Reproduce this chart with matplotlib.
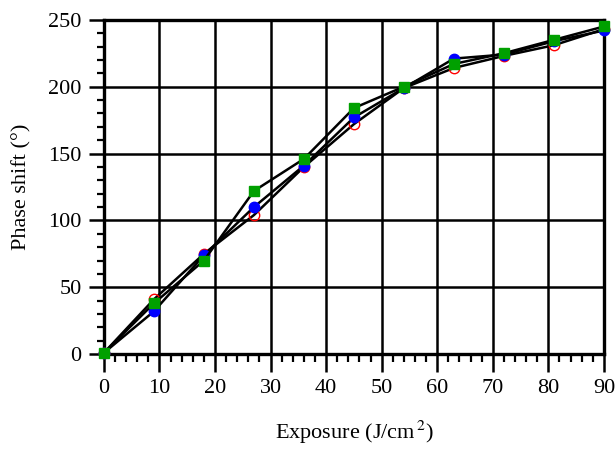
import numpy as np
import matplotlib
matplotlib.use('Agg')
import matplotlib.pyplot as plt
from matplotlib.ticker import MultipleLocator

plt.rcParams['font.family'] = ['Liberation Serif', 'DejaVu Serif']
plt.rcParams['mathtext.fontset'] = 'stix'

exposure = [0, 9, 18, 27, 36, 45, 54, 63, 72, 81, 90]
phase_red = [1, 41, 75, 104, 140, 172, 199, 214, 223, 231, 243]
phase_blue = [1, 32, 74, 110, 141, 177, 199, 221, 224, 234, 242]
phase_green = [1, 38, 70, 122, 146, 184, 200, 217, 225, 235, 245]

fig = plt.figure(figsize=(6.15, 4.5), dpi=100)
ax = fig.add_axes([0.169, 0.213, 0.813, 0.743])

ax.plot(exposure, phase_red, color='black', lw=1.8, marker='o', ms=7.5,
        mfc='none', mec='red', mew=1.0, clip_on=False, zorder=3)
ax.plot(exposure, phase_blue, color='black', lw=1.8, marker='o', ms=7.5,
        mfc='blue', mec='blue', clip_on=False, zorder=4)
ax.plot(exposure, phase_green, color='black', lw=1.8, marker='s', ms=7.5,
        mfc='#00a000', mec='#00a000', clip_on=False, zorder=5)

ax.set_xlim(0, 90)
ax.set_ylim(0, 250)
ax.xaxis.set_major_locator(MultipleLocator(10))
ax.xaxis.set_minor_locator(MultipleLocator(2))
ax.yaxis.set_major_locator(MultipleLocator(50))
ax.yaxis.set_minor_locator(MultipleLocator(10))

ax.grid(True, which='major', color='black', lw=1.8)
for s in ax.spines.values():
    s.set_linewidth(2.4)
ax.tick_params(axis='x', which='major', length=13, width=1.8, labelsize=16, pad=5)
ax.tick_params(axis='x', which='minor', length=6, width=1.6)
ax.tick_params(axis='y', which='major', length=11, width=1.8, labelsize=16, pad=5)
ax.tick_params(axis='y', which='minor', length=5, width=1.6)

ax.set_xlabel(r'Exposure (J/cm$^{\,2}$)', fontsize=16, labelpad=15)
ax.set_ylabel('Phase shift (°)', fontsize=16, labelpad=12)

fig.savefig('out.png', dpi=100)
